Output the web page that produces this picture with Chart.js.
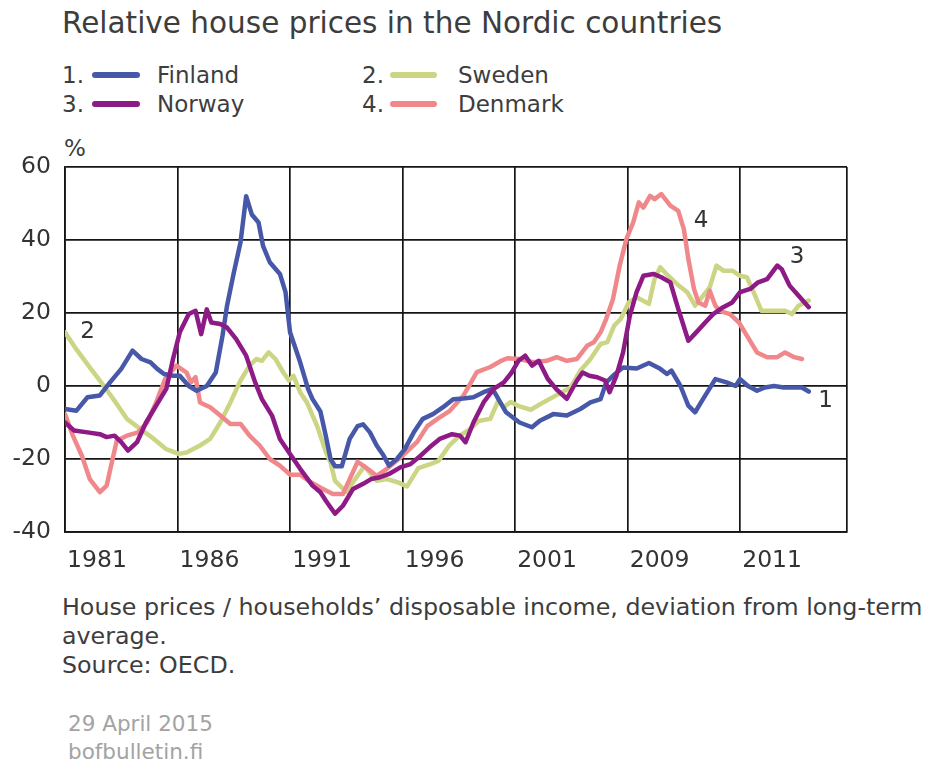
<!DOCTYPE html>
<html>
<head>
<meta charset="utf-8">
<script src="https://cdn.jsdelivr.net/npm/chart.js@4.4.1/dist/chart.umd.min.js"></script>
<style>
  body { margin: 0; width: 928px; height: 762px; background: #fff; position: relative; overflow: hidden;
         font-family: "DejaVu Sans", sans-serif; color: #3d3d3d; }
  .abs { position: absolute; white-space: nowrap; }
  #title { left: 62px; top: 8px; font-size: 29.5px; line-height: 30px; }
  .leg { font-size: 23px; line-height: 26px; }
  .sw { position: absolute; height: 6px; border-radius: 3px; }
  #pct { left: 64px; top: 135px; font-size: 23px; line-height: 26px; }
  #chartBox { position: absolute; left: 0; top: 130px; width: 928px; height: 460px; }
  #note { left: 62px; top: 593px; font-size: 23.75px; line-height: 29px; }
  #stamp { left: 68px; top: 710px; font-size: 21.5px; line-height: 28px; color: #a3a3a3; }
</style>
</head>
<body>
<div id="title" class="abs">Relative house prices in the Nordic countries</div>

<div class="abs leg" style="left:62px; top:62px">1.</div>
<div class="sw" style="left:92px; top:72px; width:48px; background:#4858a8"></div>
<div class="abs leg" style="left:157px; top:62px">Finland</div>
<div class="abs leg" style="left:362px; top:62px">2.</div>
<div class="sw" style="left:390px; top:72px; width:47px; background:#ccd584"></div>
<div class="abs leg" style="left:458px; top:62px">Sweden</div>
<div class="abs leg" style="left:62px; top:91px">3.</div>
<div class="sw" style="left:92px; top:101px; width:48px; background:#8e1a85"></div>
<div class="abs leg" style="left:157px; top:91px">Norway</div>
<div class="abs leg" style="left:362px; top:91px">4.</div>
<div class="sw" style="left:390px; top:101px; width:47px; background:#f0888b"></div>
<div class="abs leg" style="left:458px; top:91px">Denmark</div>

<div id="pct" class="abs">%</div>
<div id="chartBox"><canvas id="myChart" width="928" height="460"></canvas></div>

<div id="note" class="abs">House prices / households’ disposable income, deviation from long-term<br>average.<br>Source: OECD.</div>
<div id="stamp" class="abs">29 April 2015<br>bofbulletin.fi</div>

<script>
// [year, % deviation]
var finland = [
  [1980.0, -6.3], [1980.5, -6.8], [1981.0, -3.1], [1981.55, -2.6], [1982.0, 1.0], [1982.5, 4.7],
  [1983.0, 9.7], [1983.4, 7.4], [1983.8, 6.5], [1984.1, 4.7], [1984.4, 3.3], [1984.8, 2.8],
  [1985.1, 2.8], [1985.5, 0], [1985.85, -1.3], [1986.3, 0], [1986.7, 3.7], [1987.0, 13.8],
  [1987.2, 22], [1987.5, 31], [1987.8, 39.4], [1988.05, 52], [1988.3, 47], [1988.6, 44.8],
  [1988.8, 38.4], [1989.1, 33.9], [1989.55, 30.7], [1989.8, 25.7], [1990.0, 14.7], [1990.45, 6.5],
  [1990.8, -0.8], [1991.0, -3.6], [1991.35, -7], [1991.6, -14], [1991.8, -20], [1992.0, -22],
  [1992.3, -22], [1992.65, -14.5], [1993.0, -11], [1993.25, -10.5], [1993.55, -12.7], [1993.85, -16.3],
  [1994.15, -19], [1994.4, -21.8], [1994.75, -20], [1995.1, -17.3], [1995.5, -12.7], [1995.9, -9],
  [1996.35, -7.7], [1996.8, -5.8], [1997.25, -3.6], [1997.7, -3.4], [1998.15, -3.1], [1998.6, -1.7],
  [1999.0, -0.8], [1999.6, -7.2], [2000.2, -10], [2000.75, -11.3], [2001.1, -9.5], [2001.7, -7.7],
  [2002.3, -8.1], [2002.9, -6.3], [2003.35, -4.5], [2003.8, -3.6], [2004.05, 1], [2004.35, 2.8],
  [2004.8, 5.1], [2005.4, 4.8], [2005.95, 6.3], [2006.45, 4.7], [2006.75, 3.3], [2006.95, 4.2],
  [2007.35, 0], [2007.7, -5.4], [2008.0, -7.2], [2008.35, -3.6], [2008.9, 1.9], [2009.4, 1.0],
  [2009.8, 0], [2010.0, 1.9], [2010.35, 0], [2010.75, -1.3], [2011.1, -0.4], [2011.5, 0],
  [2011.95, -0.4], [2012.35, -0.4], [2012.75, -0.4], [2013.05, -1.5]
];

var sweden = [
  [1980.0, 14.7], [1980.5, 10.1], [1981.1, 5.1], [1981.55, 1.5], [1982.15, -3.6], [1982.75, -9],
  [1983.35, -11.8], [1983.95, -14.5], [1984.5, -17.3], [1985.05, -18.6], [1985.4, -18.2], [1986.0, -16.3],
  [1986.45, -14.5], [1986.9, -10], [1987.35, -4.5], [1987.8, 1.5], [1988.2, 5.6], [1988.5, 7.4],
  [1988.75, 6.9], [1989.05, 9.2], [1989.35, 7.4], [1989.7, 3.7], [1989.95, 1.5], [1990.15, 2.8],
  [1990.45, -1.7], [1990.75, -4.5], [1991.2, -10.9], [1991.6, -18.2], [1991.8, -21], [1992.0, -26],
  [1992.5, -29], [1993.0, -24.6], [1993.3, -22], [1993.85, -26], [1994.3, -25.5], [1994.8, -26.4],
  [1995.2, -27.5], [1995.7, -22.5], [1996.2, -21.5], [1996.6, -20.5], [1997.05, -16.5], [1997.5, -13.8],
  [1998.0, -11.8], [1998.4, -9.5], [1998.9, -9], [1999.25, -4], [1999.5, -5.8], [1999.8, -4.4],
  [2000.2, -5.6], [2000.7, -6.5], [2001.25, -4.5], [2001.85, -2.5], [2002.45, -0.5], [2002.9, 4.2],
  [2003.35, 7.4], [2003.8, 11.5], [2004.1, 12], [2004.4, 16.5], [2004.7, 18.4], [2005.05, 22.9],
  [2005.4, 24.3], [2005.95, 22.5], [2006.2, 29.3], [2006.45, 32.5], [2006.8, 30.2], [2007.2, 27.9],
  [2007.65, 25.7], [2008.0, 22], [2008.35, 24.7], [2008.65, 27], [2008.95, 33], [2009.25, 31.6],
  [2009.65, 31.6], [2010.0, 30.2], [2010.3, 29.8], [2010.6, 25.7], [2010.95, 20.6], [2011.5, 20.6],
  [2012.0, 20.6], [2012.3, 19.7], [2012.6, 22], [2013.05, 23.4]
];

var norway = [
  [1980.0, -10], [1980.4, -12.2], [1981.0, -12.7], [1981.55, -13.2], [1981.85, -14], [1982.2, -13.6],
  [1982.5, -15.4], [1982.8, -17.7], [1983.2, -15.4], [1983.6, -10], [1984.05, -5.4], [1984.5, -0.8],
  [1984.8, 7.4], [1985.1, 14.7], [1985.5, 19.7], [1985.8, 20.6], [1986.05, 14.2], [1986.3, 21],
  [1986.5, 17.4], [1986.9, 17], [1987.2, 16], [1987.6, 12.9], [1988.05, 8.3], [1988.45, 1],
  [1988.75, -3.6], [1989.2, -8.1], [1989.55, -14.5], [1990.0, -18.6], [1990.45, -22.7], [1991.0, -27.3],
  [1991.35, -29.1], [1991.6, -31.5], [1992.0, -35], [1992.35, -32.8], [1992.8, -28.2], [1993.25, -26.8],
  [1993.6, -25.5], [1994.0, -25], [1994.4, -24.1], [1994.9, -22.3], [1995.35, -21.4], [1995.8, -19.1],
  [1996.2, -16.8], [1996.65, -14.5], [1997.2, -13.2], [1997.55, -13.6], [1997.8, -15.4], [1998.15, -10],
  [1998.6, -4.5], [1999.05, -0.8], [1999.5, 1], [1999.85, 3.7], [2000.15, 6.9], [2000.45, 8.3],
  [2000.75, 5.6], [2001.05, 6.9], [2001.45, 2], [2001.85, -1], [2002.3, -3.5], [2002.75, 1.5],
  [2003.0, 3.7], [2003.3, 2.8], [2003.65, 2.4], [2004.0, 1.5], [2004.2, -1.7], [2004.5, 2.8],
  [2004.8, 9.2], [2005.1, 19.3], [2005.4, 25.7], [2005.7, 30.2], [2006.15, 30.7], [2006.5, 29.8],
  [2006.9, 28.4], [2007.25, 21.1], [2007.7, 12.4], [2008.05, 14.7], [2008.45, 17.4], [2008.8, 19.7],
  [2009.25, 21.6], [2009.65, 22.9], [2010.0, 25.7], [2010.45, 26.6], [2010.8, 28.4], [2011.2, 29.3],
  [2011.65, 33], [2011.85, 32], [2012.2, 27.5], [2012.6, 24.7], [2013.05, 21.6]
];

var denmark = [
  [1980.0, -7.7], [1980.35, -13.6], [1980.75, -19.1], [1981.1, -25.5], [1981.55, -29.1], [1981.85, -27.3],
  [1982.05, -21.8], [1982.3, -15], [1982.75, -13.6], [1983.25, -12.7], [1983.65, -10], [1984.05, -4.5],
  [1984.45, 1.9], [1984.95, 5.6], [1985.4, 3.7], [1985.6, 1], [1985.8, 2.4], [1986.0, -4.5],
  [1986.45, -5.8], [1986.9, -8.1], [1987.35, -10.4], [1987.8, -10.4], [1988.2, -13.6], [1988.65, -16.3],
  [1989.1, -20], [1989.55, -21.8], [1990.0, -24.3], [1990.45, -24.3], [1990.9, -26.3], [1991.4, -28],
  [1991.9, -29.6], [1992.35, -29.6], [1993.0, -20.8], [1993.3, -22], [1993.85, -24.6], [1994.3, -22.7],
  [1995.0, -19.1], [1995.65, -15.3], [1996.1, -11], [1996.55, -9], [1997.1, -6.8], [1997.7, -2.7],
  [1998.3, 3.8], [1998.9, 5.2], [1999.35, 6.8], [1999.65, 7.6], [2000.2, 7.4], [2000.8, 6.5],
  [2001.4, 6.9], [2001.85, 7.9], [2002.3, 6.9], [2002.75, 7.4], [2003.2, 11], [2003.5, 12],
  [2003.8, 14.7], [2004.05, 18.4], [2004.35, 23.8], [2004.65, 33], [2004.95, 40.3], [2005.25, 44.8],
  [2005.5, 50.3], [2005.7, 48.9], [2006.0, 52.1], [2006.2, 51.2], [2006.5, 52.6], [2006.9, 49.4],
  [2007.25, 48], [2007.5, 43], [2007.7, 34.8], [2007.95, 26.6], [2008.15, 22.9], [2008.45, 22],
  [2008.65, 26.1], [2008.9, 22], [2009.1, 20.6], [2009.55, 19.7], [2009.95, 17.4], [2010.3, 13.8],
  [2010.75, 9.2], [2011.2, 7.9], [2011.65, 7.9], [2012.0, 9.2], [2012.4, 7.9], [2012.75, 7.4]
];

// x grid lines and the (odd) labels printed next to them
var xGridYears = [1980, 1985, 1990, 1995, 2000, 2005, 2010, 2014.75];
var xTickLabels = ["1981", "1986", "1991", "1996", "2001", "2009", "2011", ""];
var yTicks = [-40, -20, 0, 20, 40, 60];

// small number tags next to the lines
var seriesTags = [
  { text: "2", x: 1981.0, y: 14.8 },
  { text: "4", x: 2008.27, y: 45.2 },
  { text: "3", x: 2012.53, y: 35.3 },
  { text: "1", x: 2013.8, y: -4.1 }
];

function toPoints(list) {
  return list.map(function (p) { return { x: p[0], y: p[1] }; });
}

function lineSet(label, list, color) {
  return {
    label: label,
    data: toPoints(list),
    borderColor: color,
    borderWidth: 4.5,
    pointRadius: 0,
    tension: 0,
    borderJoinStyle: "round",
    borderCapStyle: "round"
  };
}

var tagPlugin = {
  id: "seriesTags",
  afterDatasetsDraw: function (chart) {
    var ctx = chart.ctx;
    ctx.save();
    ctx.font = "23px 'DejaVu Sans'";
    ctx.fillStyle = "#333";
    ctx.textAlign = "center";
    ctx.textBaseline = "middle";
    seriesTags.forEach(function (t) {
      ctx.fillText(t.text, chart.scales.x.getPixelForValue(t.x), chart.scales.y.getPixelForValue(t.y));
    });
    ctx.restore();
  }
};

Chart.defaults.font.family = "'DejaVu Sans', sans-serif";
var gridColor = "#151515";

new Chart(document.getElementById("myChart"), {
  type: "line",
  data: {
    datasets: [
      lineSet("Norway", norway, "#8e1a85"),
      lineSet("Finland", finland, "#4858a8"),
      lineSet("Denmark", denmark, "#f0888b"),
      lineSet("Sweden", sweden, "#ccd584")
    ]
  },
  options: {
    responsive: false,
    animation: false,
    devicePixelRatio: 1,
    layout: { padding: { top: 37, right: 81, left: 0, bottom: 0 } },
    plugins: { legend: { display: false }, tooltip: { enabled: false } },
    scales: {
      x: {
        type: "linear",
        min: 1980,
        max: 2014.75,
        afterBuildTicks: function (scale) {
          scale.ticks = xGridYears.map(function (v) { return { value: v }; });
        },
        afterFit: function (scale) { scale.height = 58; },
        grid: { color: gridColor, lineWidth: 1.7, drawTicks: false },
        border: { color: gridColor, width: 1.7 },
        ticks: {
          autoSkip: false,
          maxRotation: 0,
          padding: 15,
          labelOffset: 32,
          color: "#333",
          font: { size: 23.5 },
          callback: function (value, index) { return xTickLabels[index]; }
        }
      },
      y: {
        min: -40,
        max: 60,
        afterBuildTicks: function (scale) {
          scale.ticks = yTicks.map(function (v) { return { value: v }; });
        },
        afterFit: function (scale) { scale.width = 65; },
        grid: { color: gridColor, lineWidth: 1.7, drawTicks: false },
        border: { color: gridColor, width: 1.7 },
        ticks: { padding: 14, color: "#333", font: { size: 23.5 } }
      }
    }
  },
  plugins: [tagPlugin]
});
</script>
</body>
</html>
